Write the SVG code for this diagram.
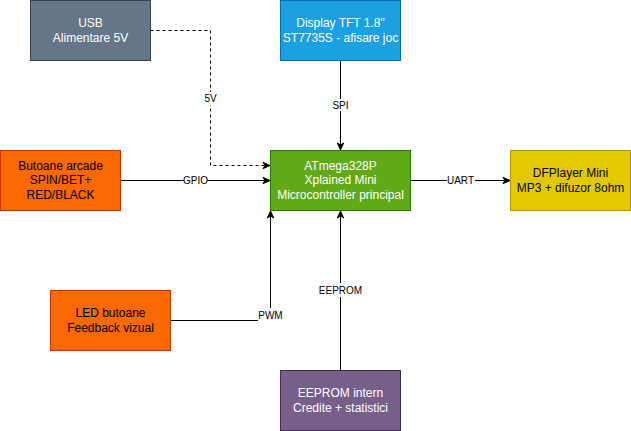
<svg xmlns="http://www.w3.org/2000/svg" width="631" height="431" viewBox="0 0 631 431">
<defs>
<marker id="arrow" markerUnits="userSpaceOnUse" markerWidth="10" markerHeight="10" refX="9" refY="5" orient="auto"><path d="M2 1.8 L9 5 L2 8.2 L4 5 Z" fill="#000" stroke="#000" stroke-width="1"/></marker>
</defs>
<style>
text{font-family:"Liberation Sans",Arial,sans-serif;font-size:12px;text-anchor:middle}
.n rect{stroke-width:1}
.w{fill:#fff}
.k{fill:#000}
.c{fill:none;stroke:#000;stroke-width:1;marker-end:url(#arrow)}
.l{font-size:10px;fill:#000}
.b{fill:#fff}
</style>
<rect width="631" height="431" fill="#fff"/>
<g id="connectors">
<path class="c" stroke-dasharray="3 3" d="M150.5 30.5H210.5V165.5H270"/>
<path class="c" d="M120.5 180.5H270"/>
<path class="c" d="M340.5 60.5V150"/>
<path class="c" d="M410.5 180.5H510"/>
<path class="c" d="M170.5 320.5H270.5V211"/>
<path class="c" d="M340.5 370.5V211"/>
<rect class="b" x="203" y="92" width="15" height="13"/><text class="l" x="210.5" y="102">5V</text>
<rect class="b" x="184" y="174" width="23" height="13"/><text class="l" x="195.5" y="184">GPIO</text>
<rect class="b" x="333" y="99" width="15" height="12"/><text class="l" x="340.5" y="109">SPI</text>
<rect class="b" x="447" y="174" width="28" height="13"/><text class="l" x="460.5" y="184">UART</text>
<rect class="b" x="258" y="308" width="25" height="14"/><text class="l" x="270.5" y="319">PWM</text>
<rect class="b" x="319" y="283" width="43" height="14"/><text class="l" x="340.5" y="294">EEPROM</text>
</g>
<g id="usb" class="n"><rect x="30.5" y="0.5" width="120" height="60" fill="#647687" stroke="#314354"/><text class="w" x="90.5" y="27">USB</text><text class="w" x="90.5" y="42">Alimentare 5V</text></g>
<g id="display" class="n"><rect x="280.5" y="0.5" width="120" height="60" fill="#1ba1e2" stroke="#006eaf"/><text class="w" x="340.5" y="27">Display TFT 1.8"</text><text class="w" x="340.5" y="42">ST7735S - afisare joc</text></g>
<g id="butoane" class="n"><rect x="0.5" y="150.5" width="120" height="60" fill="#fa6800" stroke="#c73500"/><text class="k" x="60.5" y="170">Butoane arcade</text><text class="k" x="60.5" y="184">SPIN/BET+</text><text class="k" x="60.5" y="199">RED/BLACK</text></g>
<g id="atmega" class="n"><rect x="270.5" y="150.5" width="140" height="60" fill="#60a917" stroke="#2d7600"/><text class="w" x="340.5" y="170">ATmega328P</text><text class="w" x="340.5" y="184">Xplained Mini</text><text class="w" x="340.5" y="199">Microcontroller principal</text></g>
<g id="dfplayer" class="n"><rect x="510.5" y="150.5" width="120" height="60" fill="#e3c800" stroke="#b09500"/><text class="k" x="570.5" y="177">DFPlayer Mini</text><text class="k" x="570.5" y="192">MP3 + difuzor 8ohm</text></g>
<g id="led" class="n"><rect x="50.5" y="290.5" width="120" height="60" fill="#fa6800" stroke="#c73500"/><text class="k" x="110.5" y="317">LED butoane</text><text class="k" x="110.5" y="332">Feedback vizual</text></g>
<g id="eeprom" class="n"><rect x="280.5" y="370.5" width="120" height="60" fill="#76608a" stroke="#432d57"/><text class="w" x="340.5" y="397">EEPROM intern</text><text class="w" x="340.5" y="412">Credite + statistici</text></g>
</svg>
